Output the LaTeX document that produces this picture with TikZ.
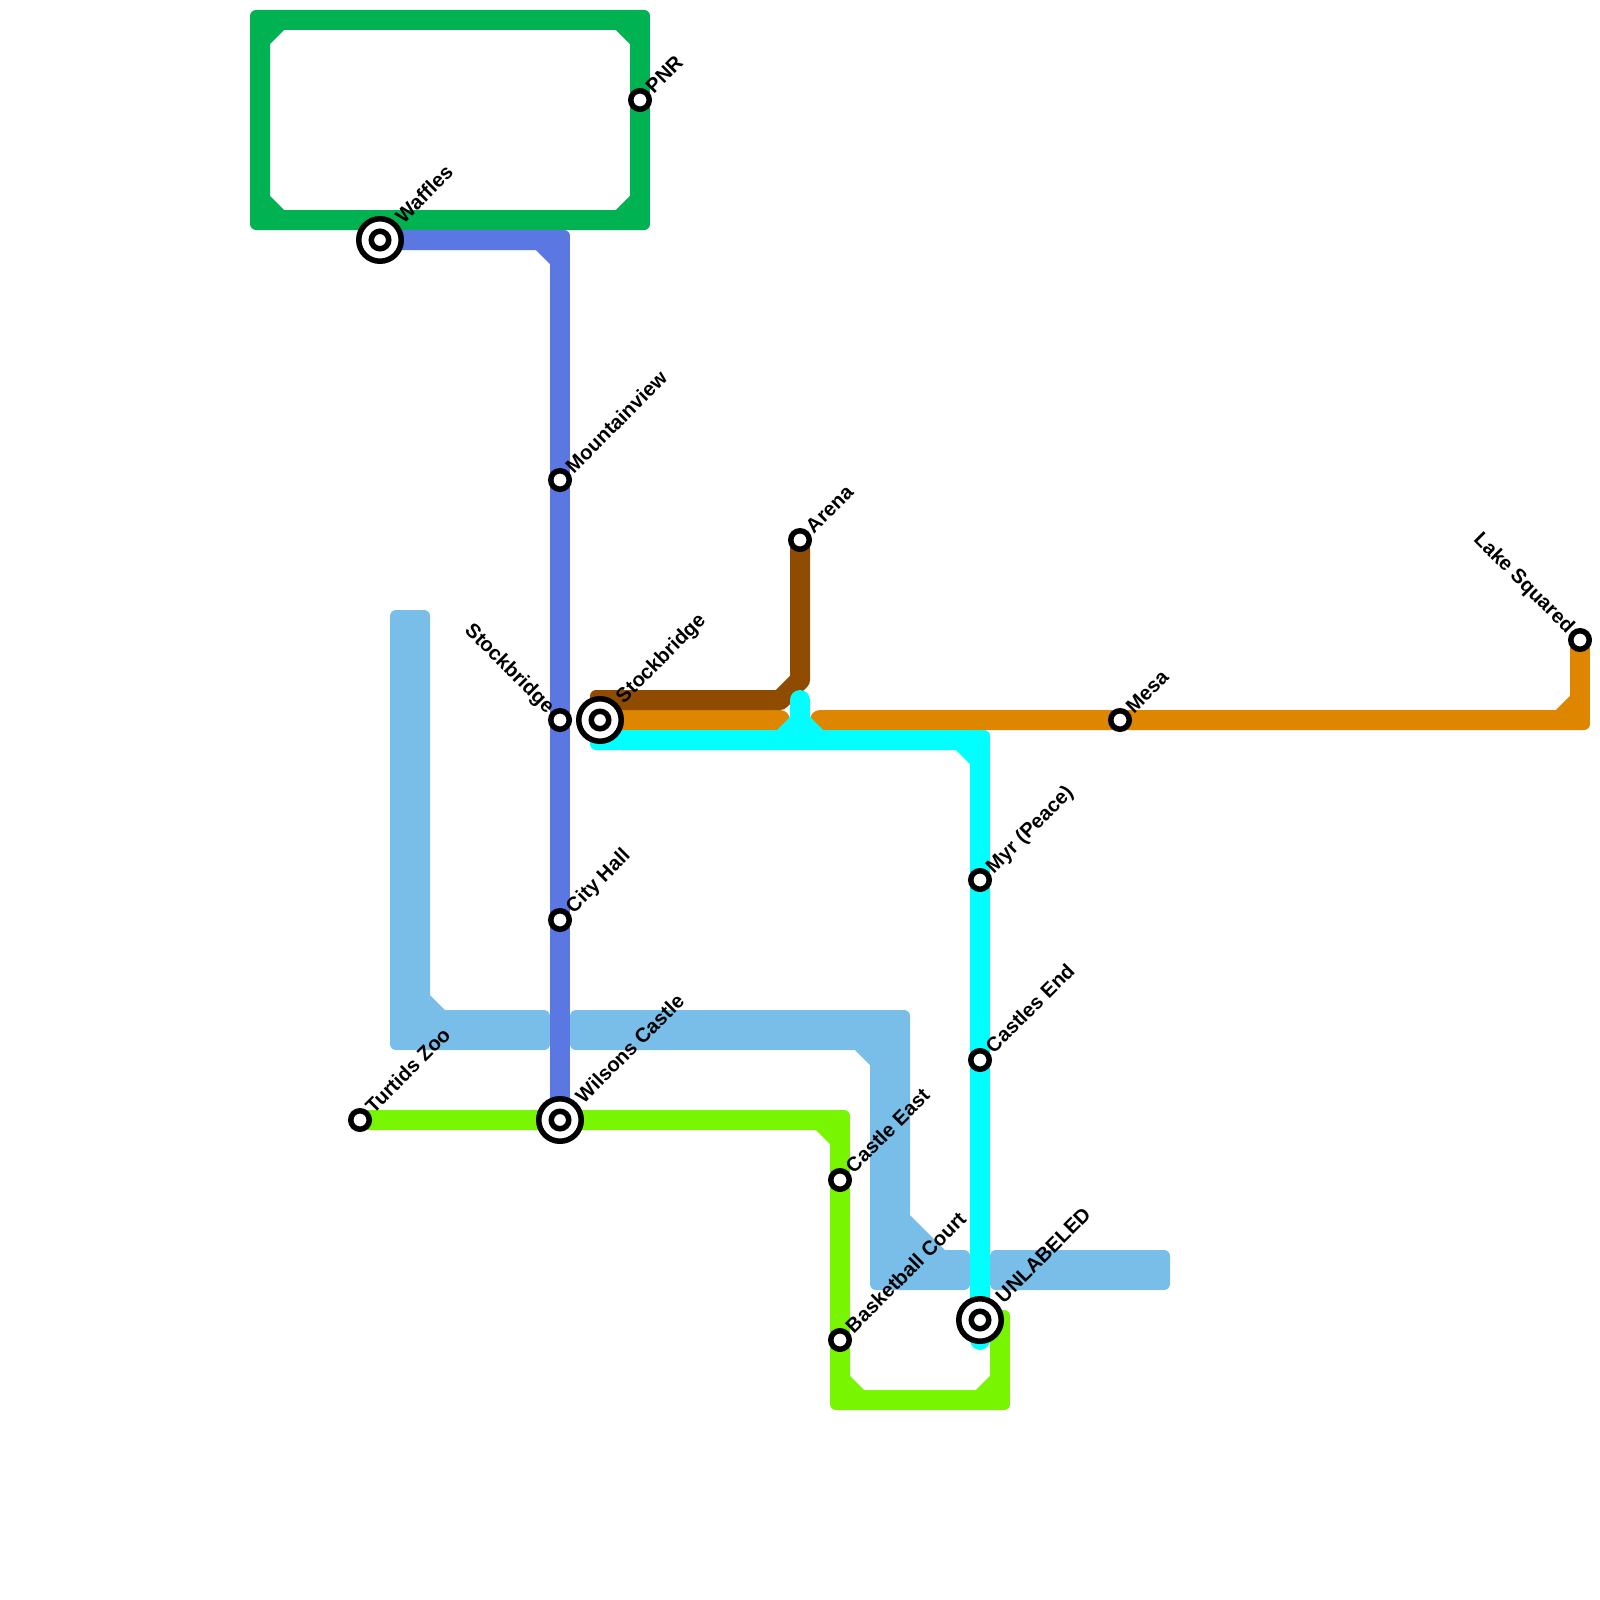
\documentclass[tikz,border=0pt]{standalone}
\usepackage{fontspec}
\setmainfont{Liberation Sans}
\usetikzlibrary{positioning, backgrounds}
\definecolor{LoopGreen}{HTML}{00B251}
\definecolor{RoyalBlue}{HTML}{5B77E2}
\definecolor{SkyBand}{HTML}{79BDE9}
\definecolor{AquaLine}{HTML}{00FFFF}
\definecolor{LimeLine}{HTML}{78F500}
\definecolor{AmberLine}{HTML}{DF8600}
\definecolor{BrownLine}{HTML}{8F4C00}

\begin{document}
\begin{tikzpicture}[
    x=1pt, y=-1pt,
    every node/.style={font=\fontsize{20.2}{24}\bfseries\selectfont},
    metroline/.style={line width=20pt, line join=miter},
    skyband/.style={fill=SkyBand, rounded corners=6pt},
    cornerclip/.style={rounded corners=6pt},
    halt/.style={circle, draw=black, fill=white, line width=5.5pt, minimum size=18.5pt, inner sep=0pt},
    hub/.style={circle, draw=black, fill=white, line width=5.5pt, minimum size=42.5pt, inner sep=0pt,
      path picture={\draw[black, line width=5.5pt] (path picture bounding box.center) circle (8.75pt);}},
    tagright/.style={rotate=45, anchor=base west, inner sep=0pt, outer sep=0pt},
    tagleft/.style={rotate=-45, anchor=base east, inner sep=0pt, outer sep=0pt}
  ]
    \useasboundingbox (0,0) rectangle (1600,1600);

    \node[hub] (waffles) at (380,240) {};
    \node[halt] (pnr) at (640,100) {};
    \node[halt] (mountainview) at (560,480) {};
    \node[halt] (stockwest) at (560,720) {};
    \node[hub] (stockeast) at (600,720) {};
    \node[halt] (arena) at (800,540) {};
    \node[halt] (mesa) at (1120,720) {};
    \node[halt] (lake) at (1580,640) {};
    \node[halt] (myr) at (980,880) {};
    \node[halt] (castlesend) at (980,1060) {};
    \node[halt] (cityhall) at (560,920) {};
    \node[hub] (wilsons) at (560,1120) {};
    \node[halt] (turtids) at (360,1120) {};
    \node[halt] (castleeast) at (840,1180) {};
    \node[halt] (basketball) at (840,1340) {};
    \node[hub] (unlabeled) at (980,1320) {};

    \node[above right=-1pt and 7pt of waffles, tagright] (wafflestag) {Waffles};
    \node[above right=-2.5pt and 5.5pt of pnr, tagright] (pnrtag) {PNR};
    \node[above right=-2.5pt and 5.5pt of mountainview, tagright] (mountainviewtag) {Mountainview};
    \node[above left=-2.5pt and 5pt of stockwest, tagleft] (stockwesttag) {Stockbridge};
    \node[above right=-1pt and 7pt of stockeast, tagright] (stockeasttag) {Stockbridge};
    \node[above right=-2.5pt and 5.5pt of arena, tagright] (arenatag) {Arena};
    \node[above right=-2.5pt and 5.5pt of mesa, tagright] (mesatag) {Mesa};
    \node[above left=-2.5pt and 5pt of lake, tagleft] (laketag) {Lake Squared};
    \node[above right=-2.5pt and 5.5pt of myr, tagright] (myrtag) {Myr (Peace)};
    \node[above right=-2.5pt and 5.5pt of castlesend, tagright] (castlesendtag) {Castles End};
    \node[above right=-2.5pt and 5.5pt of cityhall, tagright] (cityhalltag) {City Hall};
    \node[above right=-1pt and 7pt of wilsons, tagright] (wilsonstag) {Wilsons Castle};
    \node[above right=-2.5pt and 5.5pt of turtids, tagright] (turtidstag) {Turtids Zoo};
    \node[above right=-2.5pt and 5.5pt of castleeast, tagright] (castleeasttag) {Castle East};
    \node[above right=-2.5pt and 5.5pt of basketball, tagright] (basketballtag) {Basketball Court};
    \node[above right=-1pt and 7pt of unlabeled, tagright] (unlabeledtag) {UNLABELED};

    \coordinate (brownstart) at (590,700);
    \coordinate (aquastart) at (590,740);
    \coordinate (aquaend) at (980,1340);
    \coordinate (aquastem) at (800,700);

    \begin{scope}[on background layer]
      \fill[skyband] (390,610) -- (430,610) [sharp corners] -- (430,995) -- (445,1010) [rounded corners=6pt] -- (550,1010) -- (550,1050) -- (390,1050) -- cycle;
      \fill[skyband] (570,1010) -- (910,1010) [sharp corners] -- (910,1215) -- (945,1250) [rounded corners=6pt] -- (970,1250) -- (970,1290) -- (870,1290) [sharp corners] -- (870,1065) -- (855,1050) [rounded corners=6pt] -- (570,1050) -- cycle;
      \fill[skyband] (990,1250) -- (1170,1250) -- (1170,1290) -- (990,1290) -- cycle;

      \begin{scope}
        \clip[cornerclip] (250,10) rectangle (650,230);
        \draw[metroline, LoopGreen] (pnr.center) -- (640,20) -- (260,20) -- (260,220) -- (640,220) -- cycle
          (280,20) -- (260,40) (260,200) -- (280,220) (620,220) -- (640,200) (640,40) -- (620,20);
      \end{scope}
      \begin{scope}
        \clip[cornerclip] (300,230) rectangle (570,1200);
        \draw[metroline, RoyalBlue] (waffles.center) -- (560,240) -- (wilsons.center) (540,240) -- (560,260);
      \end{scope}
      \begin{scope}
        \clip[cornerclip] (300,1110) -- (850,1110) -- (850,1310) -- (1010,1310) -- (1010,1410) -- (830,1410) -- (830,1200) -- (300,1200) -- cycle;
        \draw[metroline, LimeLine] (turtids.center) -- (840,1120) -- (840,1400) -- (1000,1400) -- (1000,1320) -- (unlabeled.center)
          (820,1120) -- (840,1140) (840,1380) -- (860,1400) (980,1400) -- (1000,1380);
      \end{scope}
      \draw[metroline, AmberLine, line cap=round] (stockeast.center) -- (780,720);
      \begin{scope}
        \clip[cornerclip] (700,600) rectangle (1590,730);
        \draw[metroline, AmberLine, line cap=round] (820,720) -- (1580,720) -- (lake.center) (1560,720) -- (1580,700);
      \end{scope}
      \begin{scope}
        \clip[cornerclip] (590,690) -- (700,690) -- (700,500) -- (900,500) -- (900,800) -- (590,800) -- cycle;
        \draw[metroline, BrownLine, line join=round] (brownstart) -- (780,700) -- (800,680) -- (arena.center);
      \end{scope}
      \begin{scope}
        \clip[cornerclip] (590,730) -- (990,730) -- (990,1400) -- (900,1400) -- (900,750) -- (590,750) -- cycle;
        \draw[metroline, AquaLine] (aquastart) -- (980,740) -- (unlabeled.center) (960,740) -- (980,760);
      \end{scope}
      \draw[metroline, AquaLine, line cap=round] (unlabeled.center) -- (aquaend);
      \draw[metroline, AquaLine, line cap=round] (800,740) -- (aquastem);
      \fill[AquaLine] (776,731) -- (790,717) -- (810,717) -- (824,731) -- cycle;
    \end{scope}
  \end{tikzpicture}
\end{document}
